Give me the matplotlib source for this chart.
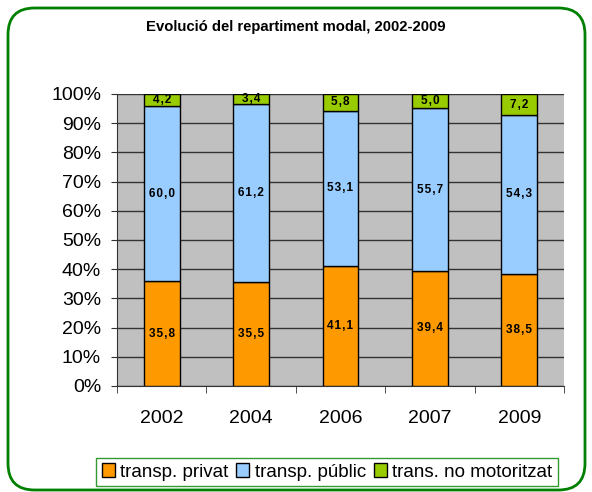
import matplotlib
matplotlib.use("Agg")
import matplotlib.pyplot as plt
from matplotlib.patches import FancyBboxPatch, Patch
import numpy as np

plt.rcParams["font.family"] = ["Liberation Sans", "DejaVu Sans"]

years = ["2002", "2004", "2006", "2007", "2009"]
privat = [35.8, 35.5, 41.1, 39.4, 38.5]
public = [60.0, 61.2, 53.1, 55.7, 54.3]
no_motor = [4.2, 3.4, 5.8, 5.0, 7.2]
series_names = ["transp. privat", "transp. públic", "trans. no motoritzat"]
colors = ["#FF9900", "#99CCFF", "#99CC00"]

W, H = 592, 492
fig = plt.figure(figsize=(W / 100, H / 100), dpi=100)
fig.patch.set_facecolor("white")

# rounded green frame
frame = FancyBboxPatch((8 / W, 2 / H), (577) / W, (482) / H,
                       boxstyle="round,pad=0,rounding_size=0.045",
                       transform=fig.transFigure, facecolor="none",
                       edgecolor="#008000", linewidth=2, zorder=-1,
                       mutation_aspect=W / H)
fig.patches.append(frame)

ax = fig.add_axes([117 / W, 1 - 386 / H, (564 - 117) / W, (386 - 94) / H])
ax.set_facecolor("#C0C0C0")

x = np.arange(len(years))
bw = 0.4
bottom = np.zeros(len(years))
for vals, col in zip([privat, public, no_motor], colors):
    vals = np.array(vals)
    ax.bar(x, vals, bw, bottom=bottom, color=col, edgecolor="black",
           linewidth=1, zorder=3)
    for xi, b, v in zip(x, bottom, vals):
        lbl = "\u200a".join(f"{v:.1f}".replace(".", ","))
        ax.text(xi, b + v / 2, lbl,
                ha="center", va="center", fontsize=8.5, fontweight="bold",
                zorder=4)
    bottom += vals

ax.set_xlim(-0.5, len(years) - 0.5)
ax.set_ylim(0, 100)
ax.set_yticks(np.arange(0, 101, 10))
ax.set_yticklabels([f"{v}%" for v in range(0, 101, 10)], fontsize=14)
ax.yaxis.grid(True, color="#333333", linewidth=1, zorder=1)
ax.set_axisbelow(True)
ax.set_xticks(x)
ax.set_xticklabels(years, fontsize=14)
ax.tick_params(axis="x", length=0, pad=17)
ax.set_xticks(np.arange(-0.5, len(years), 1), minor=True)
ax.tick_params(axis="x", which="minor", length=5, direction="out", color="#333333")
ax.tick_params(axis="y", length=4.5, direction="out", color="#333333", pad=7)
for s in ["top", "right"]:
    ax.spines[s].set_visible(False)
ax.spines["left"].set_color("#333333")
ax.spines["bottom"].set_color("#333333")

fig.text(0.5, 1 - 27 / H, "Evolució del repartiment modal, 2002-2009",
         ha="center", va="center", fontsize=10.7, fontweight="bold")

handles = [Patch(facecolor=c, edgecolor="black", linewidth=1) for c in colors]
leg = fig.legend(handles, series_names, loc="center",
                 bbox_to_anchor=(327 / W, 1 - 472 / H), ncol=3, fontsize=13.5,
                 frameon=True, fancybox=False, handlelength=0.7,
                 handleheight=0.7, handletextpad=0.3, columnspacing=0.4,
                 borderpad=0.3)
leg.get_frame().set_edgecolor("#008000")
leg.get_frame().set_linewidth(1)

fig.savefig("out.png", dpi=100)
